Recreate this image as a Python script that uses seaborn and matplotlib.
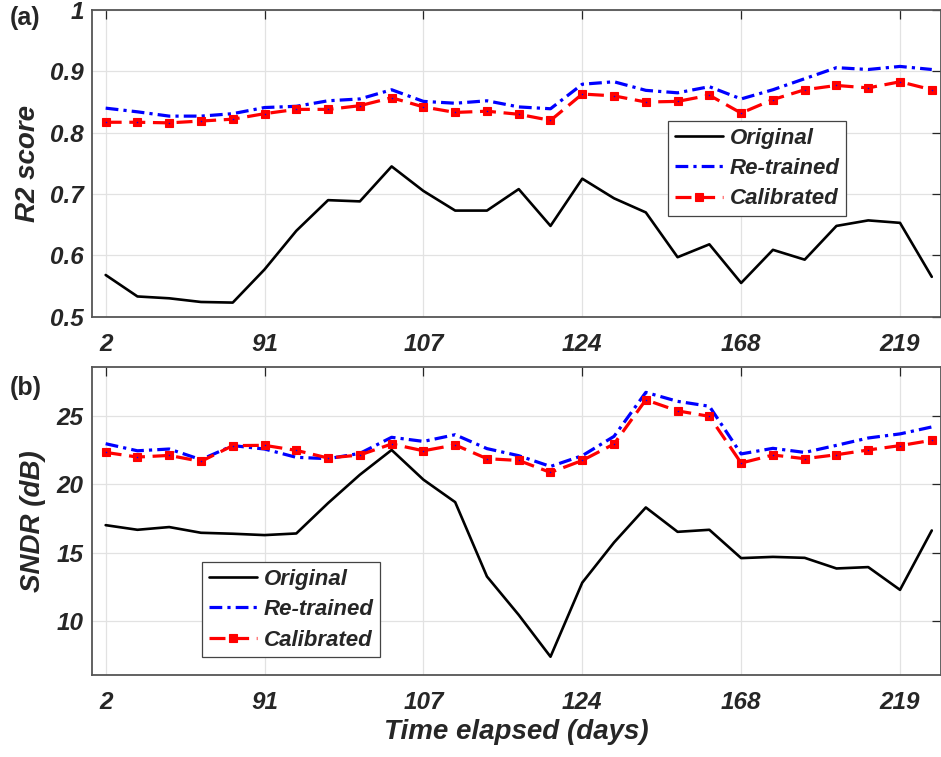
import numpy as np
import pandas as pd
import matplotlib
matplotlib.use("Agg")
import matplotlib.pyplot as plt
import seaborn as sns

# ---------------- data ----------------
positions = list(range(27))                      # measurement index
tick_positions = [0, 5, 10, 15, 20, 25]
tick_labels = ["2", "91", "107", "124", "168", "219"]
series_names = ["Original", "Re-trained", "Calibrated"]

r2_original = [0.568, 0.533, 0.530, 0.524, 0.523, 0.577, 0.640, 0.690, 0.688,
               0.745, 0.705, 0.673, 0.673, 0.708, 0.648, 0.725, 0.693, 0.670,
               0.597, 0.618, 0.555, 0.609, 0.593, 0.648, 0.657, 0.653, 0.565]
r2_retrained = [0.840, 0.834, 0.827, 0.827, 0.831, 0.841, 0.843, 0.852, 0.855,
                0.870, 0.851, 0.848, 0.852, 0.842, 0.839, 0.879, 0.883, 0.869,
                0.865, 0.875, 0.855, 0.870, 0.888, 0.906, 0.903, 0.908, 0.903]
r2_calibrated = [0.817, 0.817, 0.816, 0.819, 0.822, 0.831, 0.838, 0.838, 0.844,
                 0.857, 0.842, 0.833, 0.835, 0.830, 0.820, 0.863, 0.860, 0.850,
                 0.851, 0.861, 0.832, 0.854, 0.870, 0.877, 0.873, 0.883, 0.870]

sndr_original = [17.01, 16.67, 16.87, 16.45, 16.38, 16.28, 16.40, 18.63, 20.71,
                 22.53, 20.35, 18.70, 13.24, 10.42, 7.35, 12.79, 15.74, 18.31,
                 16.52, 16.67, 14.59, 14.68, 14.61, 13.83, 13.93, 12.26, 16.62]
sndr_retrained = [22.99, 22.47, 22.60, 21.82, 22.85, 22.60, 21.99, 21.89, 22.28,
                  23.46, 23.16, 23.65, 22.63, 22.11, 21.32, 22.11, 23.53, 26.76,
                  26.10, 25.74, 22.24, 22.65, 22.35, 22.87, 23.41, 23.71, 24.22]
sndr_calibrated = [22.35, 22.01, 22.13, 21.69, 22.85, 22.87, 22.50, 21.94, 22.16,
                   22.97, 22.47, 22.90, 21.89, 21.76, 20.88, 21.76, 22.97, 26.21,
                   25.40, 25.00, 21.57, 22.16, 21.89, 22.18, 22.53, 22.85, 23.24]

r2_yticks = [0.5, 0.6, 0.7, 0.8, 0.9, 1.0]
r2_yticklabels = ["0.5", "0.6", "0.7", "0.8", "0.9", "1"]
sndr_yticks = [10, 15, 20, 25]
sndr_yticklabels = ["10", "15", "20", "25"]

# ---------------- style ----------------
sns.set_style("white")
plt.rcParams["font.family"] = ["Liberation Sans", "DejaVu Sans"]
plt.rcParams["font.weight"] = "bold"
plt.rcParams["font.style"] = "italic"
plt.rcParams["axes.labelweight"] = "bold"

TXT = "#262626"
SPINE = "#555555"

W, H = 941, 757
fig = plt.figure(figsize=(W / 100, H / 100), dpi=100)
ax1 = fig.add_axes([92 / W, 1 - 316.7 / H, (W - 92) / W, (316.7 - 10) / H])
ax2 = fig.add_axes([92 / W, 1 - 674.7 / H, (W - 92) / W, (674.7 - 367.3) / H])


def draw(ax, orig, retr, cal, ylim, yticks, yticklabels, ylabel, label_x, leg_anchor):
    ax.set_axisbelow(True)
    ax.grid(True, color="#e2e2e2", lw=0.9)
    sns.lineplot(x=positions, y=orig, ax=ax, color="black", lw=1.9,
                 label=series_names[0], errorbar=None, sort=False)
    sns.lineplot(x=positions, y=retr, ax=ax, color="#0000ff", lw=2.3,
                 linestyle=(0, (4, 1.6, 1, 1.6)), label=series_names[1],
                 errorbar=None, sort=False)
    sns.lineplot(x=positions, y=cal, ax=ax, color="#ff0000", lw=2.3,
                 linestyle=(0, (5, 2.4)), marker="s", markersize=6.3,
                 markeredgecolor="#ff0000", markerfacecolor="#ff0000",
                 markeredgewidth=0.8, label=series_names[2],
                 errorbar=None, sort=False)
    sns.scatterplot(x=positions, y=cal, ax=ax, color="#0000ff", s=1.2,
                    linewidth=0, legend=False, zorder=5)

    ax.set_xlim(-0.43, 26.29)
    ax.set_ylim(*ylim)
    ax.set_xticks(tick_positions)
    ax.set_xticklabels(tick_labels)
    ax.set_yticks(yticks)
    ax.set_yticklabels(yticklabels)
    ax.tick_params(axis="both", direction="in", length=6.5, width=0.9,
                   colors=TXT, labelsize=17.5, top=True, right=True)
    ax.tick_params(axis="x", pad=12)
    ax.tick_params(axis="y", pad=6)
    for sp in ax.spines.values():
        sp.set_color(SPINE)
        sp.set_linewidth(1.3)
        sp.set_visible(True)
    ax.set_ylabel(ylabel, fontsize=20, color=TXT, fontweight="bold",
                  fontstyle="italic")
    ax.yaxis.set_label_coords(label_x, 0.5)
    ax.set_xlabel("")

    leg = ax.legend(loc="upper left", bbox_to_anchor=leg_anchor,
                    borderaxespad=0, frameon=True, fancybox=False,
                    framealpha=1, edgecolor="#444444",
                    prop={"family": "Liberation Sans", "weight": "bold",
                          "style": "italic", "size": 16},
                    handlelength=2.15, handletextpad=0.3, borderpad=0.3,
                    labelspacing=0.42)
    leg.get_frame().set_linewidth(0.9)


draw(ax1, r2_original, r2_retrained, r2_calibrated, (0.5, 1.0),
     r2_yticks, r2_yticklabels, "R2 score", -0.060, (0.679, 0.638))
draw(ax2, sndr_original, sndr_retrained, sndr_calibrated, (6.03, 28.6),
     sndr_yticks, sndr_yticklabels, "SNDR (dB)", -0.054, (0.130, 0.366))

ax2.set_xlabel("Time elapsed (days)", fontsize=20, color=TXT,
               fontweight="bold", fontstyle="italic", labelpad=3)

fig.text(10 / W, 1 - 17.5 / H, "(a)", fontsize=18, fontweight="bold",
         fontstyle="normal", color=TXT, ha="left", va="center")
fig.text(10 / W, 1 - 387.5 / H, "(b)", fontsize=18, fontweight="bold",
         fontstyle="normal", color=TXT, ha="left", va="center")

fig.savefig("out.png", dpi=100)
